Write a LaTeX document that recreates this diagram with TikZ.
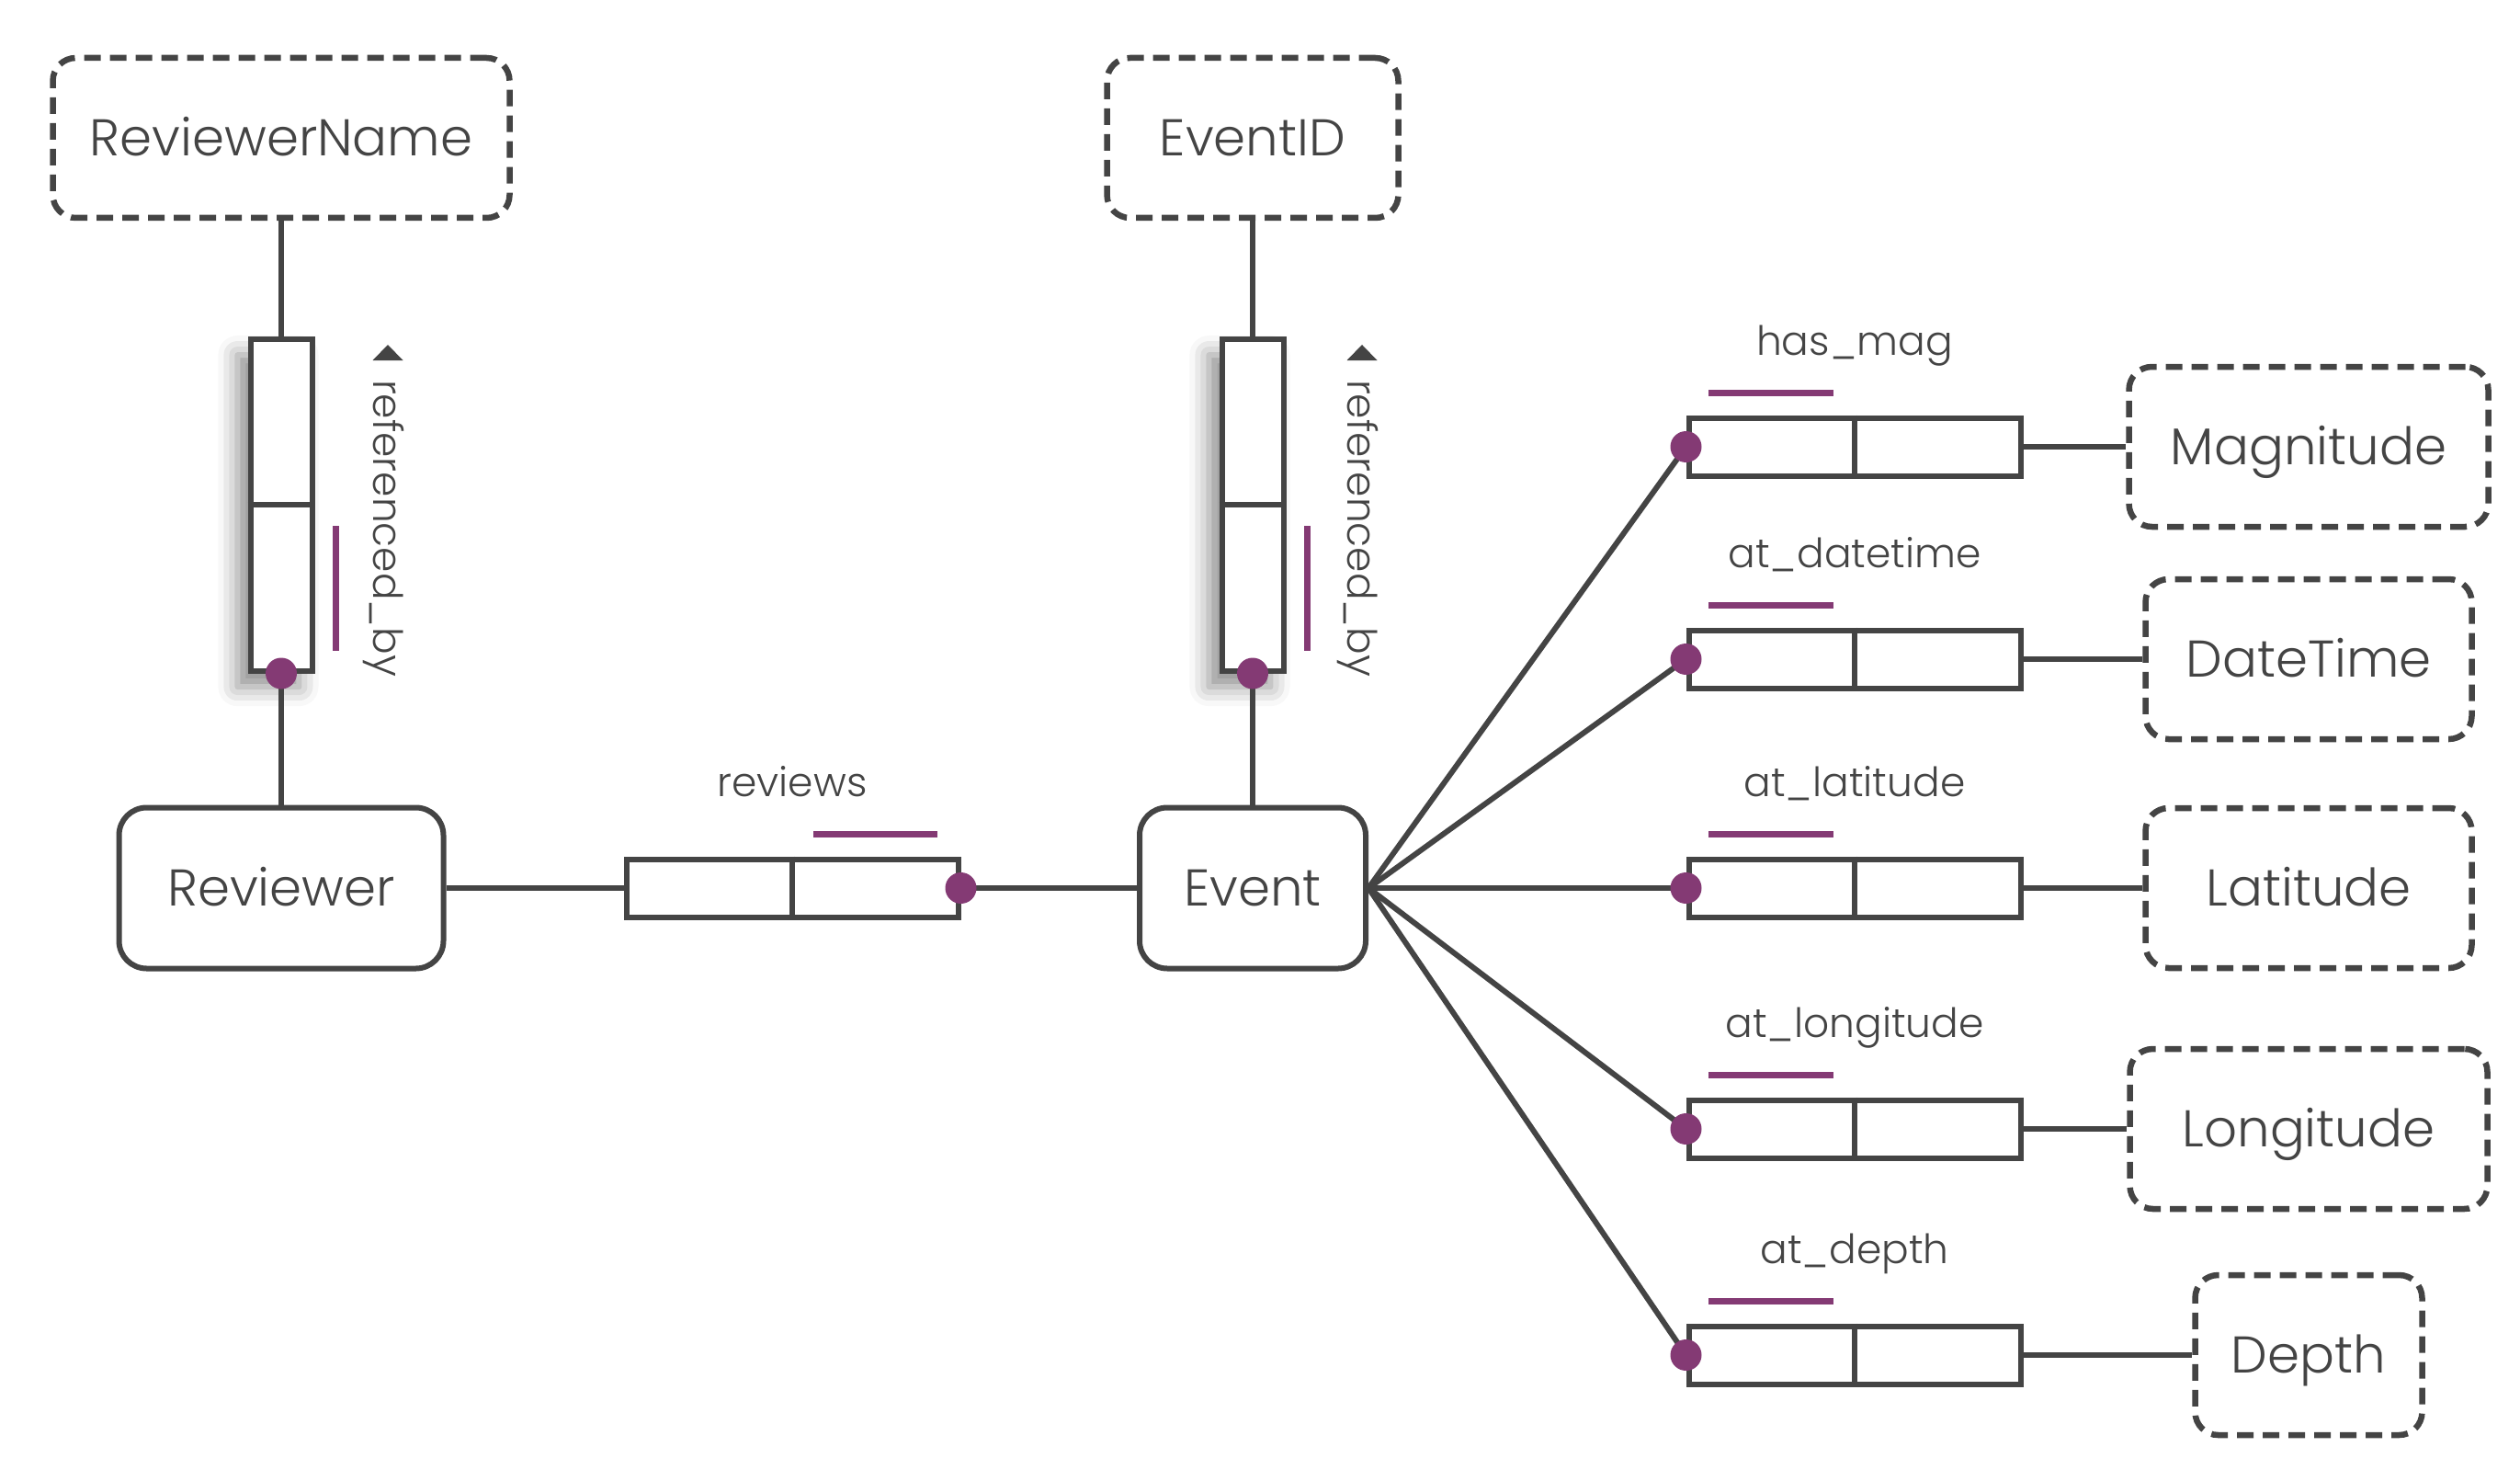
\documentclass[tikz,border=0pt]{standalone}
\usepackage{fontspec}
\setmainfont{Poppins}[UprightFont=* Light]
\usetikzlibrary{positioning,shadows.blur}
\definecolor{ink}{HTML}{444444}
\definecolor{plum}{HTML}{843A74}

\begin{document}
\begin{tikzpicture}[color=ink, line width=0.06cm,
	entity/.style = {draw, fill=white, rounded corners=0.3cm, minimum height=1.75cm, text height=11.2pt, text depth=0pt, font=\fontsize{16}{19}\selectfont},
	attr/.style = {draw, fill=white, dash pattern=on 0.18cm off 0.1cm, line width=0.065cm, rounded corners=0.25cm, minimum height=1.74cm, text height=11.2pt, text depth=0pt, font=\fontsize{16}{19}\selectfont},
	role/.style = {draw, fill=white, inner sep=0pt, minimum width=3.61cm, minimum height=0.63cm},
	vrole/.style = {role, minimum width=0.67cm, minimum height=3.61cm, blur shadow={shadow xshift=-4pt, shadow yshift=-5pt, shadow blur radius=6pt, shadow opacity=45}},
	rolelabel/.style = {anchor=base, inner sep=0pt, font=\fontsize{12.5}{15}\selectfont},
	vlabel/.style = {rotate=-90, anchor=west, inner sep=0pt, font=\fontsize{12.5}{15}\selectfont},
	roledot/.style = {circle, fill=plum, inner sep=0pt, minimum size=0.34cm},
	rolebar/.style = {draw=plum, line width=0.07cm}]
			\useasboundingbox (0,0) rectangle (27.42,-16.11);
			% entities and attributes
			\node[attr, minimum width=4.97cm] (rvname) at (3.06,-1.50) {ReviewerName};
			\node[attr, minimum width=3.17cm] (evid) at (13.63,-1.50) {EventID};
			\node[entity, minimum width=3.53cm] (reviewer) at (3.06,-9.66) {Reviewer};
			\node[entity, minimum width=2.46cm] (event) at (13.63,-9.66) {Event};
			\node[attr, minimum width=3.91cm] (mag) at (25.12,-4.86) {Magnitude};
			\node[attr, minimum width=3.55cm] (dt) at (25.12,-7.17) {DateTime};
			\node[attr, minimum width=3.55cm] (lat) at (25.12,-9.66) {Latitude};
			\node[attr, minimum width=3.89cm] (lon) at (25.12,-12.28) {Longitude};
			\node[attr, minimum width=2.47cm] (dep) at (25.12,-14.74) {Depth};
			% roles
			\node[vrole] (refl) at (3.06,-5.49) {};
			\node[vrole] (refr) at (13.63,-5.49) {};
			\node[role] (reviews) at (8.62,-9.66) {};
			\node[role] (hasmag) at (20.18,-4.86) {};
			\node[role] (atdt) at (20.18,-7.17) {};
			\node[role] (atlat) at (20.18,-9.66) {};
			\node[role] (atlon) at (20.18,-12.28) {};
			\node[role] (atdep) at (20.18,-14.74) {};
			\draw (refl.west) -- (refl.east);
			\draw (refr.west) -- (refr.east);
			\draw (reviews.north) -- (reviews.south);
			\draw (hasmag.north) -- (hasmag.south);
			\draw (atdt.north) -- (atdt.south);
			\draw (atlat.north) -- (atlat.south);
			\draw (atlon.north) -- (atlon.south);
			\draw (atdep.north) -- (atdep.south);
			% role labels
			\node[vlabel] (lbl1) at (4.17,-4.10) {referenced\_by};
			\node[vlabel] (lbl2) at (14.77,-4.10) {referenced\_by};
			\fill ([shift={(0.05,0.18)}]lbl1.west) +(-0.165,0) -- +(0.165,0) -- +(0,0.17) -- cycle;
			\fill ([shift={(0.05,0.18)}]lbl2.west) +(-0.165,0) -- +(0.165,0) -- +(0,0.17) -- cycle;
			\node[rolelabel] (lbl3) at ([yshift=1cm]reviews.center) {reviews};
			\node[rolelabel] (lbl4) at ([yshift=1cm]hasmag.center) {has\_mag};
			\node[rolelabel] (lbl5) at ([yshift=1cm]atdt.center) {at\_datetime};
			\node[rolelabel] (lbl6) at ([yshift=1cm]atlat.center) {at\_latitude};
			\node[rolelabel] (lbl7) at ([yshift=1cm]atlon.center) {at\_longitude};
			\node[rolelabel] (lbl8) at ([yshift=1cm]atdep.center) {at\_depth};
			% uniqueness bars
			\draw[rolebar] ([shift={(0.23,-0.23)}]refl.east) -- ([shift={(0.23,-1.59)}]refl.east);
			\draw[rolebar] ([shift={(0.23,-0.23)}]refr.east) -- ([shift={(0.23,-1.59)}]refr.east);
			\draw[rolebar] ([shift={(0.23,0.24)}]reviews.north) -- ([shift={(1.58,0.24)}]reviews.north);
			\draw[rolebar] ([shift={(-1.59,0.24)}]hasmag.north) -- ([shift={(-0.23,0.24)}]hasmag.north);
			\draw[rolebar] ([shift={(-1.59,0.24)}]atdt.north) -- ([shift={(-0.23,0.24)}]atdt.north);
			\draw[rolebar] ([shift={(-1.59,0.24)}]atlat.north) -- ([shift={(-0.23,0.24)}]atlat.north);
			\draw[rolebar] ([shift={(-1.59,0.24)}]atlon.north) -- ([shift={(-0.23,0.24)}]atlon.north);
			\draw[rolebar] ([shift={(-1.59,0.24)}]atdep.north) -- ([shift={(-0.23,0.24)}]atdep.north);
			% connectors
			\draw (rvname) -- (refl);
			\draw (refl) -- (reviewer);
			\draw (evid) -- (refr);
			\draw (refr) -- (event);
			\draw (reviewer) -- (reviews);
			\draw (reviews) -- (event);
			\draw (event.east) -- (hasmag.west);
			\draw (event.east) -- (atdt.west);
			\draw (event.east) -- (atlat.west);
			\draw (event.east) -- (atlon.west);
			\draw (event.east) -- (atdep.west);
			\draw (hasmag) -- (mag);
			\draw (atdt) -- (dt);
			\draw (atlat) -- (lat);
			\draw (atlon) -- (lon);
			\draw (atdep) -- (dep);
			% dots
			\node[roledot] (d1) at (refl.south) {};
			\node[roledot] (d2) at (refr.south) {};
			\node[roledot] (d3) at (reviews.east) {};
			\node[roledot] (d4) at (hasmag.west) {};
			\node[roledot] (d5) at (atdt.west) {};
			\node[roledot] (d6) at (atlat.west) {};
			\node[roledot] (d7) at (atlon.west) {};
			\node[roledot] (d8) at (atdep.west) {};
		\end{tikzpicture}
\end{document}
